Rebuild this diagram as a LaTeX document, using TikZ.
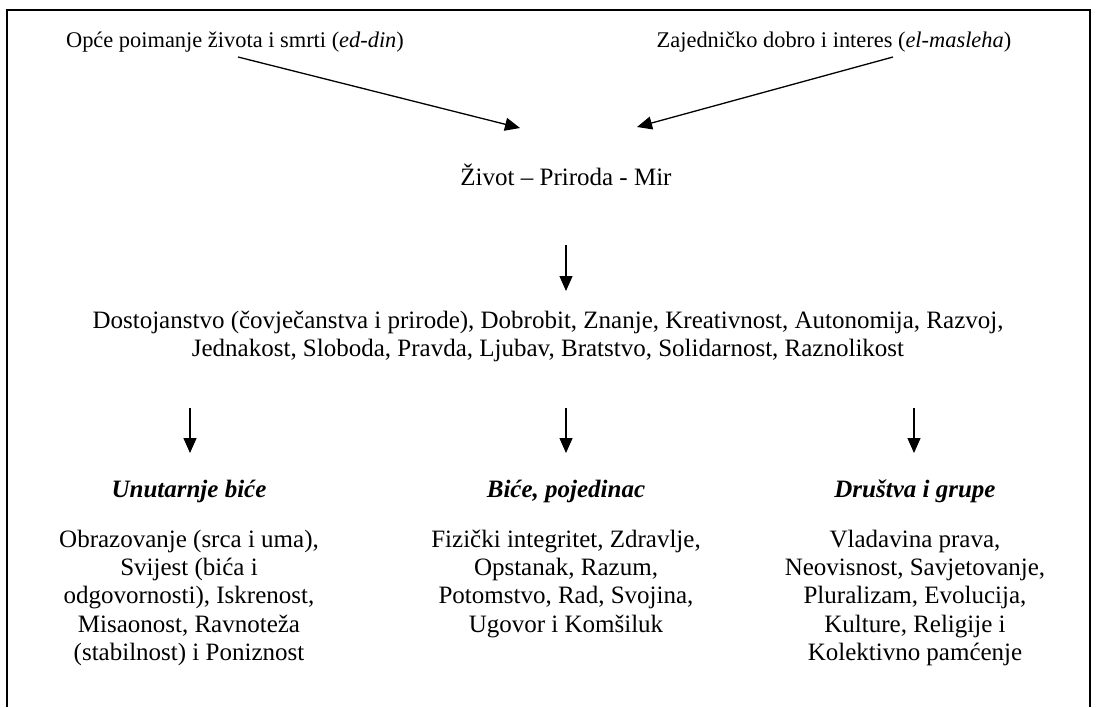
\documentclass[tikz,border=0pt]{standalone}
\usepackage{fontspec}
\setmainfont{Liberation Serif}
\usetikzlibrary{arrows.meta,positioning}
\tikzset{txt/.style={inner sep=0pt, anchor=base, align=center,
            font=\fontsize{12.5}{14.2}\selectfont},
         src/.style={txt, font=\fontsize{11.2}{14.2}\selectfont},
         hd/.style={txt, font=\fontsize{12.5}{14.2}\selectfont\bfseries\itshape},
         arr/.style={-{Triangle[length=7.5pt,width=6.5pt]}, line width=0.65pt},
         frm/.style={line width=1pt}}

\begin{document}
\begin{tikzpicture}[x=0.5pt, y=-0.5pt]
\useasboundingbox (0,0) rectangle (1096,707);
\draw[frm] (7,707) -- (7,10) -- (1090,10) -- (1090,707);
% sources (multi-line nodes sit on the baseline of their last line)
\node[src] (din) at (235,47) {Opće poimanje života i smrti (\textit{ed-din})};
\node[src] (masleha) at (834,47) {Zajedničko dobro i interes (\textit{el-masleha})};
\node[txt] (zivot) at (566,185) {Život – Priroda - Mir};
\node[txt] (vrijednosti) at (548,356.4) {Dostojanstvo (čovječanstva i prirode), Dobrobit, Znanje, Kreativnost, Autonomija, Razvoj,\\
    Jednakost, Sloboda, Pravda, Ljubav, Bratstvo, Solidarnost, Raznolikost};
% three columns
\node[hd] (unutarnje) at (189,497) {Unutarnje biće};
\node[hd] (pojedinac) at (566,497) {Biće, pojedinac};
\node[hd] (drustva) at (915,497) {Društva i grupe};
\node[txt] (u-list) at (189,660.6) {Obrazovanje (srca i uma),\\ Svijest (bića i\\ odgovornosti), Iskrenost,\\
    Misaonost, Ravnoteža\\ (stabilnost) i Poniznost};
\node[txt] (p-list) at (566,632.2) {Fizički integritet, Zdravlje,\\ Opstanak, Razum,\\ Potomstvo, Rad, Svojina,\\
    Ugovor i Komšiluk};
\node[txt] (d-list) at (915,660.6) {Vladavina prava,\\ Neovisnost, Savjetovanje,\\ Pluralizam, Evolucija,\\
    Kulture, Religije i\\ Kolektivno pamćenje};
% arrow ends
\coordinate (din-out) at (238,57);
\coordinate (din-in) at (520,128);
\coordinate (masleha-out) at (893,57);
\coordinate (masleha-in) at (637,127);
\coordinate (zivot-out) at (566,245);
\coordinate (zivot-in) at (566,291);
\coordinate (u-out) at (190,408);
\coordinate (u-in) at (190,453);
\coordinate (p-out) at (566,408);
\coordinate (p-in) at (566,453);
\coordinate (d-out) at (914,408);
\coordinate (d-in) at (914,453);
\foreach \a in {din,masleha,zivot,u,p,d}
  \draw[arr] (\a-out) -- (\a-in);
\end{tikzpicture}
\end{document}
